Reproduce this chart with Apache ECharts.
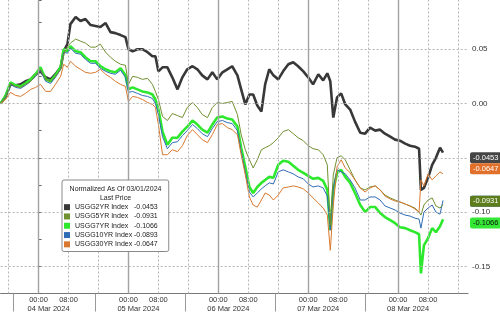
<!DOCTYPE html>
<html><head><meta charset="utf-8">
<script src="https://cdn.jsdelivr.net/npm/echarts@6/dist/echarts.min.js"></script>
<style>html,body{margin:0;padding:0;background:#fff;overflow:hidden}#c{width:500px;height:313px}</style>
</head><body><div id="c"></div><script>
// hours relative to 04 Mar 2024 00:00
const hours=[-10.1,-8.8,-7.5,-6.1,-4.8,-3.5,-2.1,-0.8,0.5,1.9,3.2,4.5,5.9,6.7,7.7,8.5,9.9,11.2,12.5,13.9,15.2,16.5,17.9,19.2,20.5,21.9,23.2,24.0,25.1,26.4,27.7,29.1,30.4,31.2,32.0,33.1,34.4,35.7,37.1,38.4,39.7,41.1,42.4,43.7,45.1,46.4,47.7,49.1,50.4,51.7,53.1,54.1,55.2,56.3,57.3,58.4,59.5,60.5,61.6,62.7,64.0,65.3,66.7,68.0,69.3,70.7,72.0,73.3,74.7,76.0,77.1,77.9,78.7,79.7,80.8,81.9,83.2,84.5,85.9,87.2,88.5,89.9,91.2,92.5,93.9,95.2,96.5,97.9,99.2,100.5,101.6,102.1,102.9,104.0,105.1,106.1,107.2,108.0];
const g2=[0,0.0065,0.0176,0.0167,0.0176,0.0204,0.0222,0.0269,0.0296,0.0241,0.0222,0.0269,0.0333,0.0481,0.0546,0.0731,0.0796,0.0759,0.0778,0.0722,0.0713,0.0704,0.0741,0.0657,0.0648,0.0630,0.0611,0.0500,0.0481,0.0500,0.0500,0.0472,0.0435,0.0435,0.0296,0.0333,0.0333,0.0241,0.0130,0.0241,0.0315,0.0343,0.0315,0.0259,0.0222,0.0287,0.0222,0.0287,0.0315,0.0343,0.0259,0.0130,-0.0009,0.0083,0.0083,-0.0019,-0.0074,0.0176,0.0315,0.0259,0.0222,0.0296,0.0361,0.0380,0.0343,0.0296,0.0241,0.0176,0.0269,0.0213,0.0278,0.0204,-0.0130,0.0056,0.0093,-0.0009,-0.0056,-0.0167,-0.0269,-0.0278,-0.0222,-0.0250,-0.0241,-0.0278,-0.0306,-0.0333,-0.0343,-0.0370,-0.0389,-0.0398,-0.0417,-0.0796,-0.0778,-0.0685,-0.0565,-0.0500,-0.0407,-0.0453];
const g5=[0,0.0065,0.0185,0.0157,0.0148,0.0176,0.0204,0.0259,0.0315,0.0222,0.0204,0.0250,0.0315,0.0454,0.0519,0.0556,0.0593,0.0574,0.0556,0.0519,0.0519,0.0546,0.0472,0.0426,0.0389,0.0361,0.0352,0.0176,0.0250,0.0241,0.0222,0.0231,0.0176,0.0111,0.0037,-0.0120,-0.0157,-0.0093,-0.0111,-0.0130,-0.0037,0.0009,-0.0037,-0.0102,-0.0130,-0.0037,0.0009,0,0.0009,0.0019,-0.0102,-0.0287,-0.0426,-0.0519,-0.0593,-0.0519,-0.0426,-0.0407,-0.0389,-0.0361,-0.0315,-0.0259,-0.0241,-0.0278,-0.0315,-0.0343,-0.0389,-0.0417,-0.0426,-0.0472,-0.0565,-0.1120,-0.0657,-0.0500,-0.0481,-0.0519,-0.0611,-0.0704,-0.0778,-0.0796,-0.0769,-0.0759,-0.0796,-0.0843,-0.0870,-0.0889,-0.0907,-0.0926,-0.0944,-0.0963,-0.1000,-0.1028,-0.0935,-0.0889,-0.0870,-0.0944,-0.0963,-0.0931];
const g7=[0,0.0074,0.0194,0.0167,0.0157,0.0185,0.0222,0.0269,0.0333,0.0222,0.0204,0.0259,0.0333,0.0500,0.0481,0.0528,0.0481,0.0472,0.0426,0.0389,0.0389,0.0343,0.0315,0.0296,0.0287,0.0324,0.0259,0.0130,0.0148,0.0130,0.0111,0.0102,0.0083,0.0037,-0.0056,-0.0259,-0.0380,-0.0315,-0.0315,-0.0259,-0.0213,-0.0157,-0.0194,-0.0241,-0.0269,-0.0194,-0.0130,-0.0120,-0.0139,-0.0148,-0.0213,-0.0407,-0.0583,-0.0769,-0.0824,-0.0769,-0.0731,-0.0704,-0.0676,-0.0685,-0.0565,-0.0528,-0.0537,-0.0574,-0.0611,-0.0639,-0.0667,-0.0694,-0.0685,-0.0713,-0.0796,-0.1167,-0.0796,-0.0639,-0.0611,-0.0676,-0.0731,-0.0824,-0.0935,-0.1000,-0.0954,-0.0954,-0.1009,-0.1046,-0.1074,-0.1102,-0.1139,-0.1148,-0.1167,-0.1185,-0.1204,-0.1565,-0.1306,-0.1241,-0.1148,-0.1185,-0.1130,-0.1066];
const g10=[0,0.0065,0.0176,0.0148,0.0139,0.0167,0.0204,0.0250,0.0306,0.0204,0.0185,0.0241,0.0315,0.0472,0.0463,0.0509,0.0463,0.0454,0.0407,0.0370,0.0370,0.0324,0.0296,0.0278,0.0269,0.0306,0.0241,0.0102,0.0111,0.0093,0.0074,0.0065,0.0046,0,-0.0102,-0.0306,-0.0417,-0.0361,-0.0352,-0.0296,-0.0250,-0.0194,-0.0231,-0.0278,-0.0306,-0.0231,-0.0167,-0.0157,-0.0176,-0.0185,-0.0250,-0.0444,-0.0630,-0.0815,-0.0861,-0.0824,-0.0787,-0.0759,-0.0731,-0.0741,-0.0630,-0.0611,-0.0630,-0.0648,-0.0676,-0.0694,-0.0741,-0.0769,-0.0759,-0.0778,-0.0852,-0.1167,-0.0778,-0.0611,-0.0630,-0.0648,-0.0704,-0.0778,-0.0889,-0.0889,-0.0861,-0.0861,-0.0889,-0.0944,-0.0963,-0.0981,-0.1009,-0.1028,-0.1037,-0.1056,-0.1065,-0.1148,-0.1000,-0.0963,-0.0935,-0.1000,-0.1019,-0.0893];
const g30=[0,0.0037,0.0102,0.0074,0.0065,0.0093,0.0130,0.0148,0.0176,0.0111,0.0111,0.0176,0.0250,0.0361,0.0333,0.0389,0.0343,0.0315,0.0287,0.0278,0.0287,0.0315,0.0269,0.0241,0.0204,0.0176,0.0157,0.0019,0.0065,0.0056,0.0037,0.0009,-0.0009,-0.0037,-0.0194,-0.0472,-0.0472,-0.0426,-0.0444,-0.0389,-0.0296,-0.0241,-0.0287,-0.0333,-0.0361,-0.0287,-0.0194,-0.0185,-0.0222,-0.0241,-0.0287,-0.0472,-0.0657,-0.0861,-0.0935,-0.0954,-0.0889,-0.0824,-0.0843,-0.0889,-0.0843,-0.0778,-0.0769,-0.0759,-0.0769,-0.0787,-0.0824,-0.0870,-0.0917,-0.0963,-0.1028,-0.1352,-0.0935,-0.0583,-0.0519,-0.0593,-0.0639,-0.0704,-0.0778,-0.0815,-0.0778,-0.0759,-0.0796,-0.0852,-0.0880,-0.0898,-0.0907,-0.0926,-0.0944,-0.0972,-0.1000,-0.0704,-0.0759,-0.0648,-0.0704,-0.0667,-0.0630,-0.0647];
const names=['USGG2YR Index','USGG5YR Index','USGG7YR Index','USGG10YR Index','USGG30YR Index'];
const dates=['04 Mar 2024','05 Mar 2024','06 Mar 2024','07 Mar 2024','08 Mar 2024'];
const legendTitle='Normalized As Of 03/01/2024\nLast Price';
const yTicks=[-0.15,-0.10,-0.05,0.00,0.05];
const separators=[-6.7,15.1,39.2,63.2,87.2];
const X_MIN=-10.133, X_MAX=114.67, Y_MIN=-0.175, Y_MAX=0.0953;

const values=[g2,g5,g7,g10,g30];
const lineColors=['#383838','#71902f','#2ee82e','#2f6cb5','#d9792f'];
const tagColors=['#454545','#5d7c1c','#35e835','#2d68b2','#e0702a'];
const tagText=['#fff','#fff','#111','#fff','#fff'];
const widths=[2.6,1,2.6,1,1];
const drawOrder=[0,2,3,1,4];
const FONT='Liberation Sans, Arial, sans-serif';

const midnights=[], dotted=[];
for(let h=-8;h<X_MAX;h+=8){ if(h>X_MIN){ (((h%24)+24)%24===0?midnights:dotted).push(h);} }
// blank guard labels near both ends keep the real labels from being culled as overlapping
const labelHours=[-9.5];
dates.forEach((d,i)=>{labelHours.push(i*24,i*24+8);});
labelHours.push(113.5);

const chart=echarts.init(document.getElementById('c'),null,{renderer:'canvas'});
const series=[];
series.push({type:'line',data:[],z:1,silent:true,
  markLine:{silent:true,symbol:'none',animation:false,label:{show:false},
    data:[
      ...dotted.map(h=>({xAxis:h,lineStyle:{type:[2,2],color:'#b5b5b5',width:1}})),
      ...yTicks.map(v=>({yAxis:v,lineStyle:{type:[2,2],color:'#b5b5b5',width:1}})),
      ...midnights.map(h=>({xAxis:h,lineStyle:{type:'solid',color:'#a2a2a2',width:1.4}}))
    ]}});
drawOrder.forEach(i=>{
  const vals=values[i];
  const last=vals[vals.length-1];
  series.push({
    name:names[i],type:'line',showSymbol:false,symbol:'none',animation:false,clip:false,
    data:hours.map((h,k)=>[h,vals[k]]),
    lineStyle:{color:lineColors[i],width:widths[i]},
    itemStyle:{color:lineColors[i]},
    markLine:{silent:true,symbol:'none',animation:false,
      lineStyle:{color:'rgba(0,0,0,0)',width:0},
      label:{show:true,position:'end',distance:2,formatter:()=>last.toFixed(4),
        backgroundColor:tagColors[i],color:tagText[i],fontFamily:FONT,fontSize:7.5,
        padding:[2,3,1,3],borderRadius:2,opacity:1},
      data:[{yAxis:last}]}
  });
});
function lastOf(name){const v=values[names.indexOf(name)];return v[v.length-1];}
chart.setOption({
  animation:false,
  backgroundColor:'#fff',
  grid:{left:0,right:32,top:0,bottom:18,containLabel:false},
  title:{text:legendTitle,left:115.5,top:184.5,textAlign:'center',padding:0,z:10,
    textStyle:{fontFamily:FONT,fontSize:7,fontWeight:'normal',color:'#222',lineHeight:9}},
  legend:{data:names,orient:'vertical',left:62,top:180,padding:[22.5,11,2.5,2],itemGap:0,
    itemWidth:6,itemHeight:6,icon:'rect',selectedMode:false,z:8,
    backgroundColor:'#fff',borderColor:'#8a8a8a',borderWidth:1,borderRadius:2,
    textStyle:{fontFamily:FONT,fontSize:7,color:'#222',lineHeight:9.3,
      rich:{n:{width:59,fontSize:7,lineHeight:9.3,fontFamily:FONT,color:'#222'},
            v:{fontSize:7,lineHeight:9.3,fontFamily:FONT,color:'#222'}}},
    formatter:name=>'{n|'+name+'}{v|'+lastOf(name).toFixed(4)+'}'},
  xAxis:{type:'value',min:X_MIN,max:X_MAX,scale:true,
    axisLine:{show:true,onZero:false,lineStyle:{color:'#777'}},
    axisTick:{show:true,length:18,customValues:separators,lineStyle:{color:'#999'}},
    splitLine:{show:false},
    axisLabel:{show:true,margin:2,fontFamily:FONT,fontSize:7.5,color:'#333',
      customValues:labelHours,hideOverlap:false,
      rich:{t:{fontFamily:FONT,fontSize:7.5,color:'#333',lineHeight:9},
            d:{fontFamily:FONT,fontSize:7.5,color:'#333',lineHeight:9,padding:[0,0,0,20]}},
      formatter:v=>{
        if(Math.abs(v-Math.round(v))>1e-6) return '';
        const r=((Math.round(v)%24)+24)%24;
        if(r===0){const d=dates[Math.round(v)/24];return d?'{t|00:00}\n{d|'+d+'}':'';}
        if(r===8) return '{t|08:00}';
        return '';
      }}},
  yAxis:{type:'value',position:'right',min:Y_MIN,max:Y_MAX,interval:0.025,
    axisLine:{show:true,lineStyle:{color:'#888'}},
    axisTick:{show:true,length:3,lineStyle:{color:'#666'}},
    splitLine:{show:false},
    axisLabel:{margin:4,fontFamily:FONT,fontSize:8,color:'#333',
      formatter:v=>{if(v>0.09)return '';const q=v/0.05;return Math.abs(q-Math.round(q))<1e-6?v.toFixed(2):'';}}},
  series:series
});
</script></body></html>
